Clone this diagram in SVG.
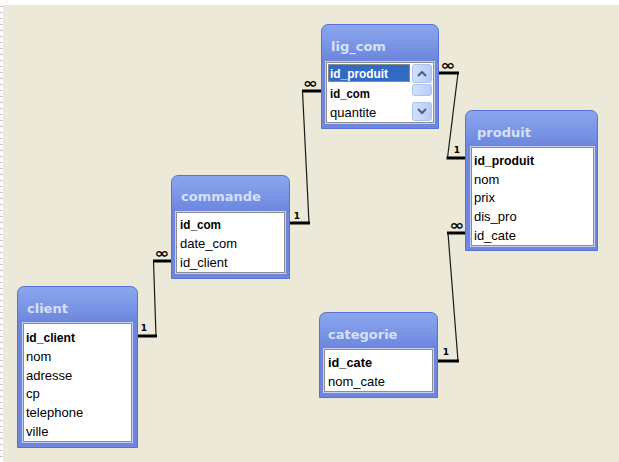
<svg xmlns="http://www.w3.org/2000/svg" width="619" height="462" viewBox="0 0 619 462">
<defs>
<linearGradient id="tg" x1="0" y1="0" x2="0" y2="1">
<stop offset="0" stop-color="#8AA6EE"/>
<stop offset="0.5" stop-color="#7C97E6"/>
<stop offset="1" stop-color="#6D86DE"/>
</linearGradient>
<linearGradient id="sb" x1="0" y1="0" x2="1" y2="0">
<stop offset="0" stop-color="#D4E1FD"/>
<stop offset="1" stop-color="#B7CBF8"/>
</linearGradient>
<pattern id="dash" width="3" height="6" patternUnits="userSpaceOnUse">
<rect width="3" height="6" fill="#FFFFFF"/>
<rect width="3" height="1" fill="#C8C8C8"/>
</pattern>
</defs>
<style>
.frame{fill:#6E86DE;stroke:#5B70D2;stroke-width:1}
.tbar{fill:url(#tg)}
.title{font-family:"DejaVu Sans",Verdana,sans-serif;font-weight:bold;font-size:13px;fill:#D5E1FA}
.list{fill:#FFFFFF;stroke:#8C8C8C;stroke-width:1}
.listout{fill:none;stroke:#C7D2F2;stroke-width:1}
.row{font-family:"Liberation Sans",Arial,sans-serif;font-size:13px;fill:#000}
.key{font-weight:bold}
.thick{stroke:#000;stroke-width:3;fill:none}
.thin{stroke:#1A1A1A;stroke-width:1.2;fill:none}
.one{font-family:"DejaVu Sans",Verdana,sans-serif;font-weight:bold;font-size:9px;fill:#000}
.many{font-family:"DejaVu Sans",Verdana,sans-serif;font-weight:bold;font-size:14px;fill:#000}
.sbtn{fill:url(#sb);stroke:#AEC2F0;stroke-width:1}
.arrow{fill:none;stroke:#4D6185;stroke-width:2}
</style>
<rect x="0" y="0" width="619" height="462" fill="#FFFFFF"/>
<rect x="0" y="5" width="3" height="457" fill="url(#dash)"/>
<rect x="3" y="5" width="616" height="457" fill="#ECE9D8"/>

<g id="connectors">
<g id="c-ligcom-commande">
<line class="thick" x1="302" y1="91" x2="321" y2="91"/>
<text class="many" x="310.5" y="88" text-anchor="middle" textLength="15" lengthAdjust="spacingAndGlyphs">∞</text>
<line class="thin" x1="302.5" y1="91" x2="309" y2="223"/>
<line class="thick" x1="290" y1="223" x2="310" y2="223"/>
<text class="one" x="297" y="219" text-anchor="middle">1</text>
</g>
<g id="c-commande-client">
<line class="thick" x1="153" y1="261" x2="171" y2="261"/>
<text class="many" x="162" y="258" text-anchor="middle" textLength="15" lengthAdjust="spacingAndGlyphs">∞</text>
<line class="thin" x1="153.5" y1="261" x2="156" y2="336"/>
<line class="thick" x1="137" y1="336" x2="157" y2="336"/>
<text class="one" x="144" y="331" text-anchor="middle">1</text>
</g>
<g id="c-ligcom-produit">
<line class="thick" x1="439" y1="73" x2="459" y2="73"/>
<text class="many" x="448" y="69.5" text-anchor="middle" textLength="15" lengthAdjust="spacingAndGlyphs">∞</text>
<line class="thin" x1="458" y1="73" x2="447.5" y2="158"/>
<line class="thick" x1="446.5" y1="158" x2="466" y2="158"/>
<text class="one" x="457" y="153" text-anchor="middle">1</text>
</g>
<g id="c-produit-categorie">
<line class="thick" x1="447" y1="233" x2="466" y2="233"/>
<text class="many" x="457" y="229.5" text-anchor="middle" textLength="15" lengthAdjust="spacingAndGlyphs">∞</text>
<line class="thin" x1="448" y1="233" x2="458" y2="361"/>
<line class="thick" x1="438" y1="361" x2="459" y2="361"/>
<text class="one" x="446" y="355" text-anchor="middle">1</text>
</g>
</g>

<g id="lig_com">
<path class="frame" d="M321.5,128.5 V32 Q321.5,24.5 329,24.5 H431 Q438.5,24.5 438.5,32 V128.5 Z"/>
<path class="tbar" d="M322,60 V32 Q322,25 329,25 H431 Q438,25 438,32 V60 Z"/>
<text class="title" x="331" y="51">lig_com</text>
<rect class="listout" x="325.5" y="61.5" width="109" height="62"/>
<rect class="list" x="326.5" y="62.5" width="107" height="60"/>
<rect x="328" y="64" width="82" height="18" fill="#316AC5"/>
<rect x="328.5" y="64.5" width="81" height="17" fill="none" stroke="#E3B04A" stroke-width="1" stroke-dasharray="1,1"/>
<text class="row key" x="330" y="78" fill="#FFFFFF" style="fill:#FFFFFF" textLength="58" lengthAdjust="spacingAndGlyphs">id_produit</text>
<text class="row key" x="330" y="98" textLength="40" lengthAdjust="spacingAndGlyphs">id_com</text>
<text class="row" x="330" y="117">quantite</text>
<rect class="sbtn" x="412.5" y="64.5" width="19" height="18" rx="2"/>
<polyline class="arrow" points="418,76 422,72 426,76"/>
<rect class="sbtn" x="412.5" y="84.5" width="19" height="11" rx="2"/>
<rect class="sbtn" x="412.5" y="102.5" width="19" height="18" rx="2"/>
<polyline class="arrow" points="418,109 422,113 426,109"/>
</g>

<g id="produit">
<path class="frame" d="M465.5,250.5 V118 Q465.5,110.5 473,110.5 H590 Q597.5,110.5 597.5,118 V250.5 Z"/>
<path class="tbar" d="M466,146 V118 Q466,111 473,111 H590 Q597,111 597,118 V146 Z"/>
<text class="title" x="477" y="137">produit</text>
<rect class="listout" x="470.5" y="146.5" width="124" height="100"/>
<rect class="list" x="471.5" y="147.5" width="122" height="98"/>
<text class="row key" x="474" y="165" textLength="60" lengthAdjust="spacingAndGlyphs">id_produit</text>
<text class="row" x="474" y="184">nom</text>
<text class="row" x="474" y="202">prix</text>
<text class="row" x="474" y="221">dis_pro</text>
<text class="row" x="474" y="240">id_cate</text>
</g>

<g id="commande">
<path class="frame" d="M171.5,278.5 V183 Q171.5,175.5 179,175.5 H282 Q289.5,175.5 289.5,183 V278.5 Z"/>
<path class="tbar" d="M172,211 V183 Q172,176 179,176 H282 Q289,176 289,183 V211 Z"/>
<text class="title" x="181" y="201">commande</text>
<rect class="listout" x="175.5" y="211.5" width="110" height="62"/>
<rect class="list" x="176.5" y="212.5" width="108" height="60"/>
<text class="row key" x="180" y="229" textLength="41" lengthAdjust="spacingAndGlyphs">id_com</text>
<text class="row" x="180" y="248">date_com</text>
<text class="row" x="180" y="267">id_client</text>
</g>

<g id="client">
<path class="frame" d="M17.5,447.5 V294 Q17.5,286.5 25,286.5 H130 Q137.5,286.5 137.5,294 V447.5 Z"/>
<path class="tbar" d="M18,322 V294 Q18,287 25,287 H130 Q137,287 137,294 V322 Z"/>
<text class="title" x="27" y="313">client</text>
<rect class="listout" x="22.5" y="322.5" width="110" height="120"/>
<rect class="list" x="23.5" y="323.5" width="108" height="118"/>
<text class="row key" x="26" y="342" textLength="49" lengthAdjust="spacingAndGlyphs">id_client</text>
<text class="row" x="26" y="361">nom</text>
<text class="row" x="26" y="380">adresse</text>
<text class="row" x="26" y="398">cp</text>
<text class="row" x="26" y="417">telephone</text>
<text class="row" x="26" y="436">ville</text>
</g>

<g id="categorie">
<path class="frame" d="M319.5,397.5 V320 Q319.5,312.5 327,312.5 H430 Q437.5,312.5 437.5,320 V397.5 Z"/>
<path class="tbar" d="M320,348 V320 Q320,313 327,313 H430 Q437,313 437,320 V348 Z"/>
<text class="title" x="328" y="339">categorie</text>
<rect class="listout" x="323.5" y="348.5" width="110" height="44"/>
<rect class="list" x="324.5" y="349.5" width="108" height="42"/>
<text class="row key" x="328" y="367" textLength="44" lengthAdjust="spacingAndGlyphs">id_cate</text>
<text class="row" x="328" y="386">nom_cate</text>
</g>
</svg>
